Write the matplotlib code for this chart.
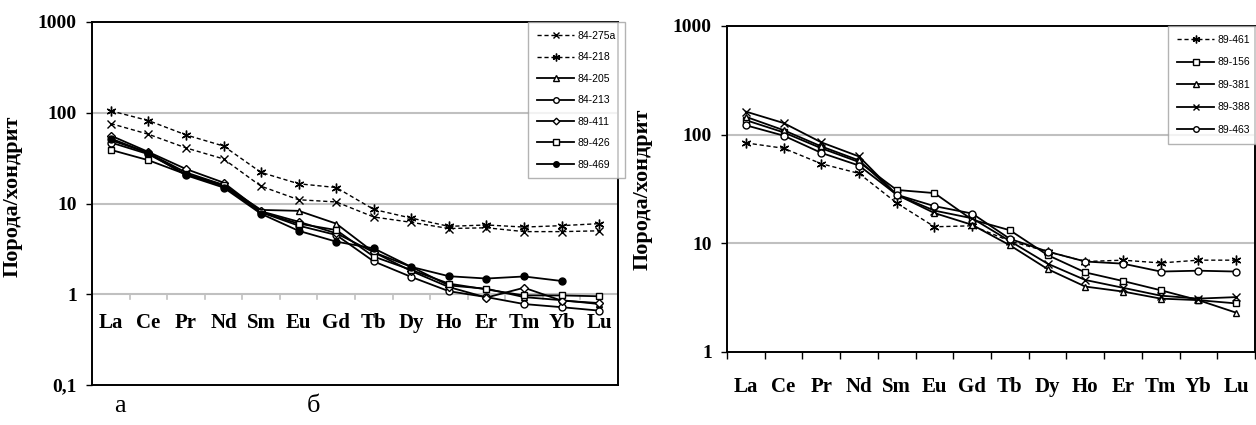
import numpy as np
import matplotlib
matplotlib.use("Agg")
import matplotlib.pyplot as plt

# ---------------- data ----------------
elements = ["La", "Ce", "Pr", "Nd", "Sm", "Eu", "Gd", "Tb", "Dy", "Ho", "Er", "Tm", "Yb", "Lu"]

left_names = ["84-275a", "84-218", "84-205", "84-213", "89-411", "89-426", "89-469"]
s_84_275a = [76, 58, 41, 31, 15.5, 11, 10.4, 7.1, 6.2, 5.3, 5.4, 4.9, 4.9, 5.0]
s_84_218 = [105, 82, 57, 43, 22, 16.5, 15, 8.6, 6.9, 5.6, 5.8, 5.5, 5.7, 6.0]
s_84_205 = [50, 36, 22, 16, 8.5, 8.3, 6.0, 2.9, 2.0, 1.25, 1.15, 0.93, 0.86, 0.78]
s_84_213 = [47, 35, 21, 15.5, 8.0, 5.7, 4.5, 2.3, 1.55, 1.08, 0.93, 0.78, 0.72, 0.66]
s_89_411 = [56, 37, 24, 17, 8.2, 6.3, 4.7, 2.9, 1.8, 1.2, 0.92, 1.18, 0.85, 0.80]
s_89_426 = [39, 30, 21, 16, 8.0, 6.0, 5.1, 2.6, 1.85, 1.31, 1.13, 0.97, 0.97, 0.95]
s_89_469 = [52, 36, 20.5, 15, 7.7, 5.0, 3.8, 3.2, 2.0, 1.58, 1.49, 1.57, 1.40, np.nan]

right_names = ["89-461", "89-156", "89-381", "89-388", "89-463"]
s_89_461 = [84, 75, 54, 44, 23.5, 14.2, 14.5, 10.5, 8.4, 6.8, 7.0, 6.6, 7.0, 7.0]
s_89_156 = [136, 105, 75, 56, 31, 29, 16.5, 13.2, 7.8, 5.4, 4.5, 3.7, 3.0, 2.8]
s_89_381 = [146, 110, 78, 58, 28, 19, 14.8, 9.6, 5.8, 4.0, 3.6, 3.1, 3.0, 2.3]
s_89_388 = [163, 128, 85, 63, 28, 20, 17, 10.5, 6.5, 4.6, 3.9, 3.3, 3.1, 3.2]
s_89_463 = [122, 98, 68, 52, 28, 22, 18.8, 11, 8.4, 6.8, 6.5, 5.5, 5.6, 5.5]

left_yticks = [0.1, 1, 10, 100, 1000]
left_yticklabels = ["0,1", "1", "10", "100", "1000"]
right_yticks = [1, 10, 100, 1000]
right_yticklabels = ["1", "10", "100", "1000"]
ylabel = "Порода/хондрит"
panel_labels = ["а", "б"]

# ---------------- styles ----------------
STAR = (6, 2, 0)
DASH = (0, (3, 2))
left_styles = [
    dict(ls=DASH, lw=1.0, marker="x", ms=6, mfc="black"),
    dict(ls=DASH, lw=1.0, marker=STAR, ms=7, mfc="black"),
    dict(ls="-", lw=1.3, marker="^", ms=5, mfc="white"),
    dict(ls="-", lw=1.3, marker="o", ms=5, mfc="white"),
    dict(ls="-", lw=1.3, marker="D", ms=4.2, mfc="white"),
    dict(ls="-", lw=1.3, marker="s", ms=5, mfc="white"),
    dict(ls="-", lw=1.3, marker="o", ms=5, mfc="black"),
]
right_styles = [
    dict(ls=DASH, lw=1.0, marker=STAR, ms=7, mfc="black"),
    dict(ls="-", lw=1.3, marker="s", ms=5, mfc="white"),
    dict(ls="-", lw=1.3, marker="^", ms=5, mfc="white"),
    dict(ls="-", lw=1.3, marker="x", ms=6, mfc="black"),
    dict(ls="-", lw=1.3, marker="o", ms=5, mfc="white"),
]

W, H = 1256, 425
fig = plt.figure(figsize=(W / 100, H / 100), dpi=100)

SERIF = "Liberation Serif"
SANS = "Liberation Sans"
GRID = "#c0c0c0"
TICKFS = 14
CATFS = 15
LABFS = 16

x = np.arange(len(elements))


def setup(ax, yticks, ylabels, ylim):
    ax.set_yscale("log")
    ax.set_ylim(*ylim)
    ax.set_xlim(-0.5, len(elements) - 0.5)
    ax.set_yticks(yticks)
    ax.set_yticklabels(ylabels, fontfamily=SERIF, fontweight="bold", fontsize=TICKFS)
    ax.yaxis.set_minor_locator(matplotlib.ticker.NullLocator())
    ax.tick_params(axis="y", length=4, width=1, pad=7, direction="out")
    for sp in ax.spines.values():
        sp.set_linewidth(1.4)
        sp.set_color("black")


def draw(ax, series, names, styles):
    handles = []
    for s, n, st in zip(series, names, styles):
        ln, = ax.plot(x, s, color="black", linestyle=st["ls"], linewidth=st["lw"],
                      marker=st["marker"], markersize=st["ms"], markerfacecolor=st["mfc"],
                      markeredgecolor="black", markeredgewidth=1.0, label=n, zorder=3)
        handles.append(ln)
    return handles


# ---------------- left panel ----------------
axL = fig.add_axes([92 / W, 1 - 385 / H, (618 - 92) / W, (385 - 22) / H])
setup(axL, left_yticks, left_yticklabels, (0.1, 1000))
for g in [1, 10, 100]:
    axL.axhline(g, color=GRID, lw=1.5, zorder=1)
axL.set_xticks([])
# category ticks on the y=1 crossing line
for b in np.arange(-0.5, len(elements) + 0.5, 1.0):
    axL.plot([b, b], [1, 0.88], color=GRID, lw=1.2, zorder=1)
for xi, el in zip(x, elements):
    axL.text(xi, 0.48, el, ha="center", va="center", fontfamily=SERIF,
             fontweight="bold", fontsize=CATFS)
hL = draw(axL, [s_84_275a, s_84_218, s_84_205, s_84_213, s_89_411, s_89_426, s_89_469],
          left_names, left_styles)
axL.set_ylabel(ylabel, fontfamily=SERIF, fontweight="bold", fontsize=LABFS)
axL.yaxis.set_label_coords(-0.131, 0.52)
legL = fig.legend(handles=hL, loc="upper left", bbox_to_anchor=(528 / W, 1 - 22 / H),
                  borderaxespad=0, frameon=True, fancybox=False, prop=dict(family=SANS, size=7.5),
                  handlelength=3.6, handletextpad=0.35, labelspacing=1.1, borderpad=0.85,
                  markerscale=0.8)
legL.get_frame().set_edgecolor("#a0a0a0")
legL.get_frame().set_linewidth(1.0)

# ---------------- right panel ----------------
axR = fig.add_axes([727 / W, 1 - 352 / H, (1256 - 727) / W - 0.0008, (352 - 26) / H])
setup(axR, right_yticks, right_yticklabels, (1, 1000))
for g in [10, 100]:
    axR.axhline(g, color=GRID, lw=1.5, zorder=1)
axR.set_xticks(x)
axR.set_xticklabels(elements, fontfamily=SERIF, fontweight="bold", fontsize=CATFS)
axR.set_xticks(np.arange(-0.5, len(elements) + 0.5, 1.0), minor=True)
axR.tick_params(axis="x", which="major", length=0, pad=18)
axR.tick_params(axis="x", which="minor", length=5, width=1, direction="out")
hR = draw(axR, [s_89_461, s_89_156, s_89_381, s_89_388, s_89_463], right_names, right_styles)
axR.set_ylabel(ylabel, fontfamily=SERIF, fontweight="bold", fontsize=LABFS)
axR.yaxis.set_label_coords(-0.140, 0.5)
legR = fig.legend(handles=hR, loc="upper left", bbox_to_anchor=(1168 / W, 1 - 26 / H),
                  borderaxespad=0, frameon=True, fancybox=False, prop=dict(family=SANS, size=7.5),
                  handlelength=3.6, handletextpad=0.35, labelspacing=1.2, borderpad=0.85,
                  markerscale=0.8)
legR.get_frame().set_edgecolor("#a0a0a0")
legR.get_frame().set_linewidth(1.0)

# panel letters
fig.text(120 / W, 1 - 406 / H, panel_labels[0], ha="center", va="center",
         fontfamily=SERIF, fontsize=19)
fig.text(313 / W, 1 - 406 / H, panel_labels[1], ha="center", va="center",
         fontfamily=SERIF, fontsize=19)

fig.savefig("out.png", dpi=100)
